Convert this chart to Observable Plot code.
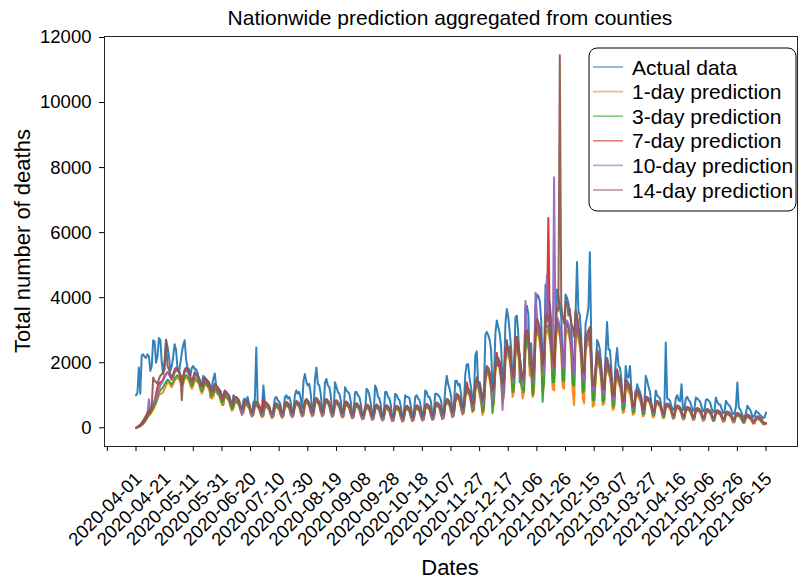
<!DOCTYPE html>
<html><head><meta charset="utf-8">
<script src="https://cdn.jsdelivr.net/npm/d3@7"></script>
<script src="https://cdn.jsdelivr.net/npm/@observablehq/plot@0.6"></script>
<style>body{margin:0;background:#fff} svg{font-family:"Liberation Sans",Arial,sans-serif}</style>
</head><body><div id="chart"></div>
<script>
// Daily values, day 0 = first day of the series (one row = one week)
const actual = [
1000,1080,1850,1050,2230,2260,2180, 2150,2260,2200,1750,1900,2690,2650, 2000,2200,2760,2700,2000,1650,2100,
2700,2500,2200,1750,1900,2200,2570, 2400,1800,1700,2000,2300,2550,2690, 2100,1850,1800,1600,1850,1900,1800,
1800,1700,1450,1300,1350,1600,1500, 1450,1300,1400,930,1250,1500,1670, 1300,1030,1100,1140,1000,700,1050,
1100,1000,950,680,600,1000,950, 900,850,750,550,500,850,900, 800,950,700,500,450,780,850,
2470,750,650,500,600,1300,800, 700,650,600,450,350,600,900, 950,850,800,700,450,450,950,
1000,900,950,800,500,550,1000, 1150,1050,1100,900,600,1450,1650, 1400,1300,1350,1050,600,550,1500,
1850,1350,1300,1050,550,550,1400, 1500,1300,1250,1000,500,500,1400, 1250,1100,1050,850,450,500,1250,
1150,1100,1050,800,450,500,1100, 1100,1000,950,750,400,350,450, 1200,1150,1000,750,400,450,1300,
1200,950,900,700,350,400,1100, 1100,950,900,700,300,350,1050, 1000,900,850,650,350,400,1000,
950,950,900,650,400,400,950, 1000,900,850,650,400,450,1150, 1100,950,950,800,400,450,1050,
1050,1000,950,850,450,550,1200, 1600,1350,1200,1000,500,650,1450, 1450,1300,1350,1050,650,750,1650,
1950,1950,1500,1250,900,950,2250, 2350,1300,1400,1200,850,1100,2850, 2950,2850,2700,2400,1200,1450,2900,
3300,3100,2900,2500,1400,1550,3200, 3650,3400,2950,2450,1500,1800,3400, 3450,2900,1400,1700,1500,1600,3700,
3750,3500,1900,2600,1400,1800,3700, 4100,4050,3900,3300,1900,2000,4400, 4200,3950,3800,3300,1900,1500,2700,
4250,4050,3750,3400,1900,1800,4100, 4000,3850,3500,3200,1900,1800,3450, 5100,3600,3450,2750,1400,1550,3200,
3400,3700,5400,2600,1100,1050,1600, 2700,2600,2400,1900,1200,1300,2300, 3250,2400,2400,1800,1000,1200,2000,
2450,1900,1850,1500,700,700,1900, 1550,1550,1900,1150,600,700,950, 1340,1200,1100,930,550,700,1600,
1450,1250,1100,730,500,550,1150, 1000,950,900,620,450,550,2620, 900,880,820,650,550,600,900,
1000,850,820,1340,550,600,900, 950,850,800,650,520,580,930, 900,850,800,650,500,550,850,
880,830,780,600,480,520,930, 800,720,720,580,450,480,830, 750,700,650,520,420,450,650,
1390,620,570,450,350,320,450, 680,600,550,420,330,380,520, 470,450,380,350,300,320,470
];
const pred1 = [
0,10,25,50,80,120,170, 230,300,380,420,480,560,650, 750,880,1000,1050,1050,1100,1200,
1300,1400,1400,1300,1250,1350,1450, 1500,1550,1500,1400,1300,1350,1500, 1550,1500,1450,1300,1200,1300,1450,
1450,1400,1350,1150,1050,1150,1350, 1300,1250,1200,1000,900,950,1150, 1100,1050,1000,850,700,750,950,
920,880,820,650,520,580,780, 780,740,680,520,400,450,680, 700,650,600,430,340,390,640,
680,640,560,400,320,360,620, 650,600,540,380,300,340,600, 630,600,550,390,300,350,640,
680,640,590,410,320,370,660, 710,680,630,450,340,380,700, 770,730,660,470,350,390,740,
790,750,680,480,350,390,740, 770,730,660,460,330,370,710, 730,690,620,430,310,340,660,
690,650,580,400,290,310,620, 650,610,540,370,260,270,500, 610,590,530,350,240,270,560,
610,570,510,330,220,250,540, 590,550,490,310,200,230,520, 570,540,480,300,190,220,510,
570,540,480,310,200,230,520, 590,560,500,330,220,250,560, 630,600,540,360,240,270,600,
670,650,580,390,260,300,660, 760,740,670,470,320,370,780, 900,880,800,580,400,460,930,
1100,1050,980,740,480,530,1150, 1380,1230,1000,780,400,520,1420, 1700,1650,1480,1150,650,780,1750,
2000,1950,1780,1400,800,950,2050, 2250,2200,2050,1650,950,1100,2250, 2400,2300,1700,1350,900,1100,2450,
2450,2700,1600,1800,950,1050,2800, 2900,2850,2600,2150,1100,1350,2950, 3000,2900,2700,2250,1200,1150,2500,
3100,3000,2800,2350,1250,1200,2900, 3000,2900,2700,2250,1100,700,2700, 3100,2700,2500,2050,900,750,2400,
2500,2600,2700,1750,650,700,1400, 2050,1950,1800,1400,700,750,1650, 1850,1650,1550,1200,550,600,1450,
1550,1350,1250,1000,450,500,1200, 1200,1100,1050,800,400,430,950, 980,930,850,680,350,380,800,
840,800,740,570,320,350,700, 740,700,650,500,290,310,620, 660,630,580,450,270,290,560,
600,580,540,410,250,270,520, 560,540,500,380,230,250,490, 520,500,470,350,210,230,460,
490,470,440,330,200,210,430, 450,430,400,300,180,190,390, 410,390,360,280,160,170,350,
370,350,320,250,140,150,300, 320,300,270,210,120,130,250, 270,250,220,170,100,100,120
];
const pred3 = [
0,15,30,55,90,130,190, 260,330,400,450,520,610,700, 800,950,1080,1150,1200,1250,1350,
1400,1480,1450,1380,1330,1420,1520, 1580,1620,1570,1480,1380,1430,1580, 1620,1580,1520,1380,1280,1380,1530,
1500,1450,1400,1230,1130,1230,1400, 1350,1300,1250,1080,980,1030,1200, 1150,1100,1050,900,780,830,1000,
960,920,860,700,580,640,820, 820,770,720,560,450,500,720, 730,680,630,470,370,430,680,
700,660,600,440,360,400,650, 680,630,570,420,330,370,630, 660,620,580,420,330,380,660,
700,660,620,440,350,400,690, 740,710,660,480,370,420,740, 800,750,690,500,380,430,780,
820,780,710,510,380,430,780, 790,750,690,490,360,410,740, 750,710,650,460,340,380,690,
710,670,610,430,310,350,650, 670,630,570,400,280,300,530, 630,610,560,380,260,300,590,
630,590,540,360,240,280,570, 610,570,520,340,220,260,550, 590,560,510,330,210,250,540,
590,560,510,340,220,260,550, 610,580,530,360,240,280,590, 650,620,570,390,260,300,630,
690,670,610,420,290,330,690, 790,770,710,510,350,400,810, 940,910,850,630,440,500,970,
1140,1090,1040,800,520,580,1190, 1420,1290,1080,850,500,620,1480, 1780,1720,1570,1250,450,850,1820,
2080,2030,1870,1550,950,1080,2130, 2380,2330,2180,1800,1100,1250,2380, 2700,2250,1950,1350,1200,1100,2400,
2780,2680,1900,1800,1000,1350,2780, 3050,2980,2750,2300,800,1500,3080, 3150,3050,2850,2400,1400,1400,2650,
3250,3150,2950,2500,1450,1450,3050, 3150,3050,2850,2400,1350,1300,2850, 3250,2850,2650,2200,1100,1150,2550,
2650,2750,2850,1900,850,850,1550, 2150,2050,1900,1500,800,850,1750, 1950,1750,1650,1300,650,700,1550,
1650,1450,1350,1100,550,600,1300, 1300,1200,1150,900,480,500,1000, 1050,1000,920,750,420,450,860,
870,830,770,610,380,410,720, 760,720,670,540,340,360,640, 680,650,600,480,310,330,580,
620,600,560,440,290,310,540, 580,560,520,410,270,290,510, 540,520,490,380,250,270,480,
510,490,460,360,230,250,450, 470,450,420,330,210,230,410, 430,410,380,300,190,200,370,
390,370,340,270,170,180,320, 340,320,290,230,150,160,270, 290,270,240,190,130,120,130
];
const pred7 = [
0,20,40,70,110,160,220, 300,380,460,520,600,700,820, 1050,1250,1350,1400,1420,1500,1600,
1650,1700,1650,1550,1480,1580,1700, 1750,1780,1720,1600,1500,1560,1720, 1780,1720,1650,1500,1400,1500,1650,
1600,1550,1500,1350,1250,1350,1500, 1450,1400,1350,1200,1100,1150,1300, 1250,1200,1150,1000,900,950,1100,
1050,1000,950,800,700,750,900, 900,850,800,640,540,600,800, 800,750,700,540,450,520,750,
760,720,660,520,440,880,740, 740,690,640,490,410,450,700, 720,680,640,500,410,460,720,
760,720,680,520,430,480,740, 790,760,720,560,450,500,800, 850,800,740,580,470,510,830,
880,830,760,590,470,510,830, 850,800,740,570,450,490,800, 810,760,700,540,430,460,750,
770,720,660,500,390,420,700, 720,680,620,470,360,380,600, 680,660,610,450,340,370,640,
680,640,590,430,320,350,620, 660,620,570,410,300,330,600, 640,610,560,400,290,320,590,
640,610,560,410,300,330,600, 660,630,580,430,320,350,640, 700,670,620,460,350,380,680,
740,720,660,500,380,420,750, 850,830,760,600,460,510,880, 1000,970,910,720,570,640,1050,
1400,1200,1100,900,700,780,1250, 1500,1380,1250,1050,800,920,1550, 1850,1800,1650,1350,1100,1200,1900,
2300,1900,2050,1500,1450,1250,2450, 2450,2400,2250,1900,1500,1650,2450, 2800,2350,2250,1600,1650,1500,3000,
2850,2750,2150,2050,1450,1750,2850, 3150,3050,2850,2450,1800,1950,3200, 3300,6450,3000,2550,1900,1850,2800,
3350,3250,3050,2650,1950,1950,3150, 3250,3150,2950,2550,1850,1750,2950, 3350,2950,2750,2350,1550,1550,2650,
2750,2850,2950,2050,1250,1250,1750, 2250,2150,2000,1650,1150,1150,1850, 2050,1850,1750,1450,950,950,1650,
1700,1500,1400,1200,750,800,1400, 1350,1250,1200,1000,620,650,1080, 1100,1050,970,800,530,560,900,
900,860,800,660,460,480,760, 790,750,700,580,410,430,680, 710,680,630,520,370,390,620,
650,630,590,480,340,360,580, 610,590,550,450,320,340,550, 570,550,520,420,300,320,510,
540,520,490,400,280,300,480, 500,480,450,370,260,270,440, 460,440,410,340,240,250,400,
420,400,370,310,210,220,350, 370,350,320,270,180,190,300, 320,300,270,220,150,140,140
];
const pred10 = [
0,20,50,90,140,200,280, 350,420,880,560,620,720,820, 900,1050,1200,1300,1380,1450,1550,
1650,1720,1680,1580,1500,1600,1720, 1780,1820,1760,1640,1530,1580,1750, 1800,1750,1680,1520,1420,1520,1680,
1620,1570,1520,1370,1270,1370,1520, 1470,1420,1370,1220,1120,1170,1320, 1270,1220,1170,1020,920,970,1120,
1070,1020,970,820,720,770,920, 920,870,820,640,400,560,810, 810,760,710,530,360,480,760,
770,730,670,510,380,470,740, 750,700,650,470,310,400,710, 730,690,650,480,320,420,730,
770,730,690,500,340,440,750, 800,770,730,540,360,460,800, 860,810,750,560,380,470,840,
890,840,770,570,370,470,840, 860,810,750,550,350,450,810, 820,770,710,520,330,420,760,
780,730,670,480,300,380,710, 730,690,630,450,270,340,610, 690,670,620,430,250,330,650,
690,650,600,410,230,310,630, 670,630,580,390,210,290,610, 650,620,570,380,200,280,600,
650,620,570,390,210,290,610, 670,640,590,410,230,310,650, 710,680,630,440,250,340,690,
750,730,670,480,280,380,760, 860,840,770,580,350,470,890, 1010,980,920,700,450,600,1060,
1200,1150,1100,880,600,700,1250, 1500,1350,1200,1000,650,850,1550, 1850,1800,1650,1350,800,1150,1900,
2150,2100,1950,1650,550,1350,2250, 2650,2300,2400,1800,1500,1450,2700, 2700,2650,2200,1800,1350,1600,3900,
2950,2850,2200,2100,1400,1700,4150, 3500,2900,3100,2300,1900,1700,3600, 4700,3250,3050,2600,1800,7700,2900,
3400,3300,3100,2700,1850,1850,3200, 3300,3200,3000,2600,1750,1650,3000, 3400,3000,2800,2400,1450,1450,2700,
2800,2900,3000,2100,1150,1150,1800, 2300,2200,2050,1700,1050,1100,1900, 2100,1900,1800,1500,850,900,1700,
1750,1550,1450,1250,700,750,1450, 1400,1300,1250,1050,580,620,1120, 1120,1070,1000,830,500,540,930,
920,880,820,680,440,460,780, 800,760,710,590,390,410,690, 720,690,640,530,350,370,630,
660,640,600,490,320,340,590, 620,600,560,460,300,320,560, 580,560,530,430,280,300,520,
550,530,500,410,260,280,490, 510,490,460,380,240,250,450, 470,450,420,350,220,230,410,
430,410,380,320,190,200,360, 380,360,330,280,160,170,310, 330,310,280,230,130,120,130
];
const pred14 = [
0,30,60,100,150,220,300, 380,460,520,580,650,1550,1450, 1400,1350,1500,1600,1650,1700,1800,
2700,1900,1800,1650,1550,1650,1800, 1850,1800,1750,1600,850,1600,1800, 1850,1800,1720,1560,1450,1550,1720,
1650,1600,1550,1400,1300,1400,1550, 1500,1450,1400,1250,1150,1200,1350, 1300,1250,1200,1050,950,1000,1150,
1100,1050,1000,850,750,800,950, 950,900,850,680,560,620,830, 840,790,740,570,470,540,790,
800,760,700,560,470,600,780, 780,730,680,520,430,470,740, 760,720,680,530,430,480,760,
800,760,720,550,450,500,780, 830,800,760,590,470,520,830, 890,840,780,610,490,530,870,
920,870,800,620,490,530,870, 890,840,780,600,470,510,840, 850,800,740,570,450,480,790,
810,760,700,530,410,440,740, 760,720,660,500,380,400,640, 720,700,650,480,360,390,680,
720,680,630,460,340,370,660, 700,660,610,440,320,350,640, 680,650,600,430,310,340,630,
680,650,600,440,320,350,640, 700,670,620,460,340,370,680, 740,710,660,490,370,400,720,
780,760,700,530,400,440,790, 890,870,800,630,480,530,920, 1050,1010,950,750,590,660,1100,
1250,1200,1150,930,720,800,1300, 1550,1420,1300,1100,850,950,1600, 1900,1850,1700,1400,1150,1250,1950,
2200,2150,2000,1700,1350,1450,2250, 2700,2350,2500,1850,1700,1550,2800, 2750,2650,2150,1850,1500,1700,2900,
3000,2900,2300,2200,1550,1850,3000, 3350,3250,3050,2650,1950,2100,3400, 3500,3400,3200,2800,2050,2050,3100,
3700,3600,11450,3800,3400,3200,3900, 3850,3450,3650,3200,3100,2800,3600, 3500,3100,2900,2500,1700,1700,2800,
2900,3000,3100,2200,1300,1300,1900, 2400,2300,2100,1750,1200,1200,2000, 2150,1950,1850,1550,1000,1000,1750,
1800,1600,1500,1300,800,850,1500, 1450,1350,1300,1100,650,700,1150, 1150,1100,1030,860,560,590,960,
950,910,850,710,490,510,800, 830,790,740,620,430,450,720, 750,720,670,560,390,410,660,
690,670,630,520,360,380,620, 650,630,590,490,340,360,590, 610,590,560,460,320,340,550,
580,560,530,440,300,320,520, 540,520,490,410,280,290,480, 500,480,450,380,260,270,440,
460,440,410,350,230,240,390, 410,390,360,310,200,210,340, 360,340,310,260,170,150,150
];
const seriesNames = ["Actual data","1-day prediction","3-day prediction","7-day prediction","10-day prediction","14-day prediction"];
const seriesColors = ["#1f77b4","#ff7f0e","#2ca02c","#d62728","#9467bd","#8c564b"];
const xTickPositions = [-20,0,20,40,60,80,100,120,140,160,180,200,220,240,260,280,300,320,340,360,380,400,420,440];
const xTickLabels = ["2020-04-01","2020-04-21","2020-05-11","2020-05-31","2020-06-20","2020-07-10","2020-07-30","2020-08-19","2020-09-08","2020-09-28","2020-10-18","2020-11-07","2020-11-27","2020-12-17","2021-01-06","2021-01-26","2021-02-15","2021-03-07","2021-03-27","2021-04-16","2021-05-06","2021-05-26","2021-06-15"];
const yTicks = [0,2000,4000,6000,8000,10000,12000];
const titleText = "Nationwide prediction aggregated from counties";
const xLabel = "Dates";
const yLabel = "Total number of deaths";

const seriesData = [actual, pred1, pred3, pred7, pred10, pred14];
const rows = seriesData.flatMap((arr, s) => arr.map((v, i) => ({day: i, value: v, series: seriesNames[s]})));
const tickLabelRows = xTickLabels.map((t, k) => ({pos: xTickPositions[k], label: t}));

const font = "'Liberation Sans', Arial, sans-serif";
const plot = Plot.plot({
  width: 798, height: 581,
  marginLeft: 104, marginRight: 1, marginTop: 36, marginBottom: 135,
  style: {fontFamily: font, fontSize: "18.5px", color: "#000", background: "#fff", overflow: "visible"},
  x: {type: "linear", domain: [-22, 462]},
  y: {domain: [-575, 12030]},
  color: {domain: seriesNames, range: seriesColors},
  marks: [
    Plot.line(rows, {x: "day", y: "value", z: "series", stroke: "series", strokeWidth: 2, strokeOpacity: 0.92}),
    Plot.frame({stroke: "#222", strokeWidth: 1}),
    Plot.axisY({ticks: yTicks, tickSize: 5, tickPadding: 8, label: null, tickFormat: d => String(d), fontSize: 18.5}),
    Plot.axisX({ticks: xTickPositions, tickSize: 5, label: null, tickFormat: () => ""}),
    Plot.text(tickLabelRows, {x: "pos", text: "label", frameAnchor: "bottom", dy: 67, dx: 2, rotate: -45, textAnchor: "middle", fontSize: 18.5, fill: "#000"})
  ]
});
const svg = d3.select(plot);
const addText = (x, y, txt, size) => svg.append("text").attr("x", x).attr("y", y).attr("text-anchor", "middle")
  .attr("dominant-baseline", "central").style("font-size", size).attr("fill", "#000").text(txt);
addText(450, 17, titleText, "21px");
addText(450, 567, xLabel, "22px");
svg.append("text").attr("transform", "translate(22,241) rotate(-90)").attr("text-anchor", "middle")
  .attr("dominant-baseline", "central").style("font-size", "22px").attr("fill", "#000").text(yLabel);
const lg = svg.append("g");
lg.append("rect").attr("x", 589).attr("y", 48).attr("width", 207).attr("height", 163).attr("rx", 8)
  .attr("fill", "#fff").attr("fill-opacity", 0.85).attr("stroke", "#000").attr("stroke-width", 1);
seriesNames.forEach((name, k) => {
  const cy = 67 + k * 24.6;
  lg.append("line").attr("x1", 593).attr("x2", 623).attr("y1", cy).attr("y2", cy)
    .attr("stroke", seriesColors[k]).attr("stroke-width", 1.6).attr("stroke-opacity", 0.6);
  lg.append("text").attr("x", 632).attr("y", cy).attr("text-anchor", "start").attr("dominant-baseline", "central")
    .style("font-size", "21px").attr("fill", "#000").text(name);
});
document.getElementById("chart").appendChild(plot);
</script>
</body></html>
